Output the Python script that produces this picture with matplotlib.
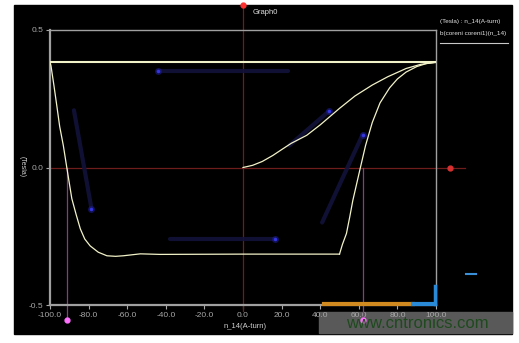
import numpy as np
import matplotlib
matplotlib.use('Agg')
import matplotlib.pyplot as plt
from matplotlib.patches import Rectangle

plt.rcParams['font.family'] = ['Liberation Sans', 'DejaVu Sans']

# hysteresis loop branches, n_14 (A-turn) vs B (Tesla)
top_x = [-100, 100]
top_b = [0.382, 0.382]

left_x = [-100, -99.5, -98, -96.5, -95, -93.1, -91.3, -88.7, -86.5, -84.3, -82, -79.2,
          -75, -70.5, -66, -62, -57, -53.2, -48, -43, 0, 50]
left_b = [0.382, 0.37, 0.30, 0.226, 0.15, 0.08, 0.0, -0.113, -0.17, -0.223, -0.26, -0.285,
          -0.308, -0.321, -0.323, -0.321, -0.317, -0.314, -0.315, -0.316, -0.315, -0.315]

right_x = [50, 51.5, 53.6, 55.3, 56.9, 58.7, 60.5, 63.5, 67, 71, 76, 80, 84.5, 90, 95, 100]
right_b = [-0.315, -0.28, -0.24, -0.18, -0.12, -0.065, -0.01, 0.08, 0.164, 0.235, 0.29,
           0.322, 0.347, 0.367, 0.378, 0.382]

init_x = [0, 5, 10, 15.5, 20, 25, 33, 40, 50, 58, 67, 75, 84.5, 92, 100]
init_b = [0, 0.008, 0.022, 0.044, 0.065, 0.088, 0.117, 0.155, 0.215, 0.26, 0.30, 0.33,
          0.36, 0.375, 0.383]

# direction arrows (tail -> head)
arrow_tail = [(23.5, 0.35), (-87.6, 0.208), (-37.7, -0.26), (41, -0.2), (24, 0.08)]
arrow_head = [(-44, 0.35), (-78.5, -0.15), (16.5, -0.26), (62, 0.12), (44.4, 0.204)]

# coercive markers
coercive_x = [-91.4, 62]

xticks = [-100, -80, -60, -40, -20, 0, 20, 40, 60, 80, 100]
yticks = [-0.5, 0.0, 0.5]

fig = plt.figure(figsize=(5.19, 3.43), dpi=100)
fig.patch.set_facecolor('white')
fig.patches.append(Rectangle((14/519, 1-334/343), 498/519, 329/343,
                             transform=fig.transFigure, color='black', zorder=-5))
# watermark bar (behind the tick labels)
fig.patches.append(Rectangle((319/519, 1-333/343), 193/519, 21/343,
                             transform=fig.transFigure, color='#595959', zorder=-1))

ax = fig.add_axes([50/519, 1-305/343, 386/519, 275/343])
ax.set_facecolor('black')
ax.set_xlim(-100, 100)
ax.set_ylim(-0.5, 0.5)

for s in ax.spines.values():
    s.set_color('#a0a0a0')
    s.set_linewidth(1.0)
ax.spines['left'].set_linewidth(1.6)
ax.spines['bottom'].set_linewidth(1.6)

ax.set_xticks(xticks)
ax.set_xticklabels(['%.1f' % v for v in xticks])
ax.set_yticks(yticks)
ax.set_yticklabels(['%.1f' % v for v in yticks])
ax.tick_params(colors='#a8a8a8', labelsize=6, length=3, width=0.8, pad=2)

# cursor lines
ax.axvline(0, ymin=-0.02, ymax=1.09, color='#6e1c1c', lw=0.9, clip_on=False, zorder=2)
ax.axhline(0, xmin=0, xmax=1.075, color='#6e1c1c', lw=0.9, clip_on=False, zorder=2)
ax.plot([0], [0.5 + 0.09], marker='o', ms=3.5, color='#ff3030', clip_on=False, zorder=5)
ax.plot([107.5], [0], marker='o', ms=3.5, color='#d83030', clip_on=False, zorder=5)
for cx in coercive_x:
    ax.plot([cx, cx], [0, -0.555], color='#8a3a8a', lw=0.9, clip_on=False, zorder=2)
    ax.plot([cx], [-0.555], marker='o', ms=3.5, color='#ff70ff', clip_on=False, zorder=5)

# blue direction arrows (faint)
for (tx, tb), (hx, hb) in zip(arrow_tail, arrow_head):
    ax.plot([tx, hx], [tb, hb], color='#12123a', lw=3, alpha=0.9, solid_capstyle='round', zorder=3)
    ax.plot([hx], [hb], marker='o', ms=5, mew=0, color='#1c1c90', alpha=0.6, zorder=3)
    ax.plot([hx], [hb], marker='o', ms=2.5, mew=0, color='#3535e0', zorder=3)

# curves
curve_color = '#f2f2c8'
ax.plot(top_x, top_b, color=curve_color, lw=1.5, zorder=4)
ax.plot(left_x, left_b, color=curve_color, lw=0.9, zorder=4)
ax.plot(right_x, right_b, color=curve_color, lw=0.9, zorder=4)
ax.plot(init_x, init_b, color=curve_color, lw=0.9, zorder=4)

# scribbles at the bottom right
ax.plot([42, 88], [-0.495, -0.495], color='#d08a20', lw=3, clip_on=False, zorder=4)
ax.plot([88, 99], [-0.495, -0.495], color='#2a8ad8', lw=3, clip_on=False, zorder=4)
ax.plot([99.5, 99.5], [-0.495, -0.43], color='#2a8ad8', lw=2.5, clip_on=False, zorder=4)

fig.text(245/519, 1-327/343, 'n_14(A-turn)', color='#d0d0d0', fontsize=5.5, ha='center', va='center')
fig.text(22/519, 1-167/343, '(Tesla)', color='#d0d0d0', fontsize=5, rotation=270,
         ha='center', va='center')
fig.text(253/519, 1-13/343, 'Graph0', color='#e0e0e0', fontsize=5.5, ha='left', va='center')

# legend panel
fig.text(440/519, 1-22/343, '(Tesla) : n_14(A-turn)', color='#e0e0e0', fontsize=4.6,
         ha='left', va='center')
fig.text(440/519, 1-34/343, 'b(coreni coreni1)(n_14)', color='#e0e0e0', fontsize=4.6,
         ha='left', va='center')
fig.add_artist(plt.Line2D([440/519, 508/519], [1-43/343, 1-43/343], color='#c8c8c8', lw=0.8))
fig.add_artist(plt.Line2D([466/519, 476/519], [1-274/343, 1-274/343], color='#3a90d8', lw=1.5))

fig.text(417/519, 1-323/343, 'www.cntronics.com', color='#1e4a1e', fontsize=12,
         ha='center', va='center', zorder=7)

fig.savefig('out.png', dpi=100, facecolor='white')
